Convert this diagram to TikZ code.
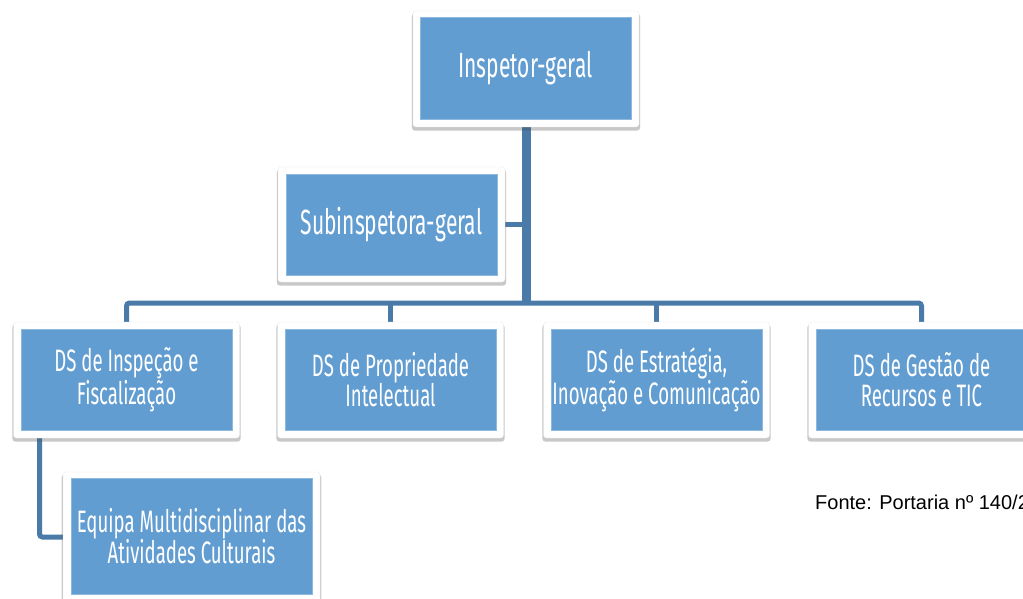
\documentclass[tikz,border=0pt]{standalone}
\usepackage{fontspec}
\newfontfamily\boxfont[FakeStretch=0.6]{Fira Sans}
\newfontfamily\srcfont{Liberation Sans}
\usetikzlibrary{shadows,backgrounds}
\definecolor{boxblue}{HTML}{629DD1}
\definecolor{linkblue}{HTML}{4A7AA8}
\definecolor{edgeblue}{HTML}{8DB8E0}
\tikzset{
  frame/.style={fill=white, draw=black!8, line width=0.4pt, rounded corners=3pt, inner sep=0pt,
    drop shadow={shadow xshift=0pt, shadow yshift=-3pt, shadow scale=1.01, opacity=0.3, fill=black!70}},
  bluebox/.style={fill=boxblue, draw=edgeblue, line width=0.8pt, text=white,
    align=center, inner sep=0pt},
  bigtext/.style={font=\boxfont\fontsize{35}{36}\selectfont},
  midtext/.style={font=\boxfont\fontsize{31}{30}\selectfont},
  link/.style={draw=linkblue, line width=5pt, rounded corners=3pt},
  trunk/.style={draw=linkblue, line width=9pt}
}
\begin{document}
\begin{tikzpicture}[x=1pt,y=-1pt]
\useasboundingbox (0,0) rectangle (1023,599);
\clip (0,0) rectangle (1023,599);
% top
\node[frame, minimum width=226, minimum height=116] (topF) at (526,69) {};
\node[bluebox, bigtext, minimum width=211, minimum height=102] (top) at (525.5,68) {Inspetor-geral};
% sub
\node[frame, minimum width=227, minimum height=115] (subF) at (391.5,224.5) {};
\node[bluebox, bigtext, minimum width=211, minimum height=101] (sub) at (391.5,224.5) {Subinspetora-geral};
% row
\node[frame, minimum width=226, minimum height=116] (insF) at (126.5,380) {};
\node[bluebox, midtext, minimum width=211, minimum height=101] (ins) at (126.5,379.5) {DS de Inspeção e\\Fiscalização};
\node[frame, minimum width=226, minimum height=116] (proF) at (390.5,380) {};
\node[bluebox, midtext, minimum width=211, minimum height=101] (pro) at (390.5,379.5) {DS de Propriedade\\Intelectual};
\node[frame, minimum width=226, minimum height=116] (estF) at (656.5,380) {};
\node[bluebox, midtext, minimum width=211, minimum height=101] (est) at (656.5,379.5) {DS de Estratégia,\\Inovação e Comunicação};
\node[frame, minimum width=226, minimum height=116] (gesF) at (921.5,380) {};
\node[bluebox, midtext, minimum width=211, minimum height=101] (ges) at (921.5,379.5) {DS de Gestão de\\Recursos e TIC};
% equipa
\node[frame, minimum width=257, minimum height=130] (eqF) at (191.5,537) {};
\node[bluebox, midtext, minimum width=241, minimum height=116] (eq) at (191.5,536) {Equipa Multidisciplinar das\\Atividades Culturais};
% source
\node[anchor=base west, inner sep=0pt, font=\srcfont\fontsize{20}{24}\selectfont] (src) at (815,509) {Fonte: Portaria nº 140/2};
% connectors
\coordinate (bus) at (526,303);
\coordinate (eqdrop) at (39.5,438);
\begin{pgfonlayer}{background}
\fill[white] (0,0) rectangle (1023,599);
\draw[trunk] (topF.south) -- (topF.south |- bus);
\draw[link] (subF.east) -- (subF.east -| topF.south);
\draw[link] (insF.north) |- (bus) -| (gesF.north);
\draw[link] (proF.north) -- (proF.north |- bus);
\draw[link] (estF.north) -- (estF.north |- bus);
\draw[link] (eqdrop) |- (eqF.west);
\end{pgfonlayer}
\end{tikzpicture}
\end{document}
